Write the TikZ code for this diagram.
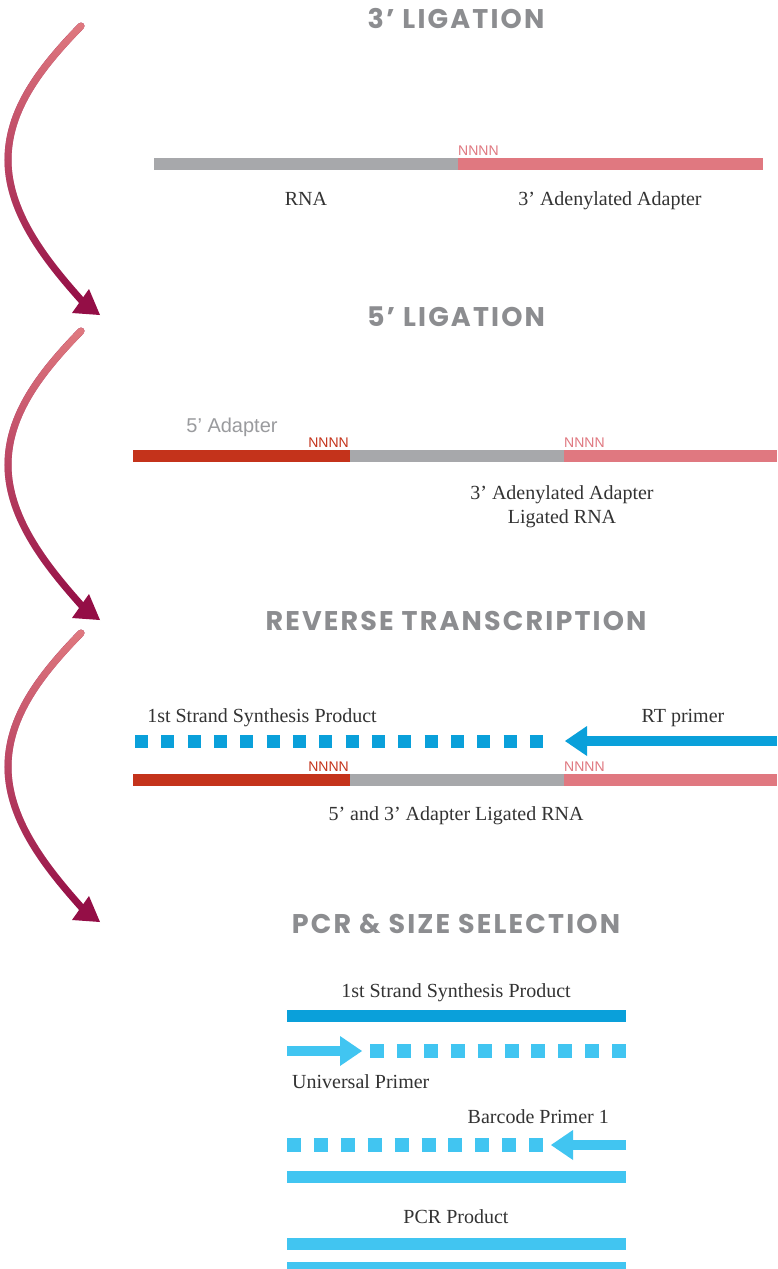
\documentclass[tikz,border=0pt]{standalone}
\usepackage{fontspec}
\setmainfont{Liberation Serif}
\newfontfamily\titlefont{Poppins}[LetterSpace=8]
\newfontfamily\labelfont{Liberation Sans}
\usetikzlibrary{fadings}

\definecolor{titlegray}{HTML}{8C8D90}
\definecolor{rnagray}{HTML}{A7A8AB}
\definecolor{adaptpink}{HTML}{E07880}
\definecolor{adaptred}{HTML}{C4331B}
\definecolor{rtblue}{HTML}{0AA0DA}
\definecolor{pcrblue}{HTML}{41C5F1}
\definecolor{flowtop}{HTML}{E07A80}
\definecolor{flowbot}{HTML}{940E46}
\definecolor{textdark}{HTML}{333333}
\definecolor{labelgray}{HTML}{9A9B9E}

\tikzset{
  title/.style={font=\titlefont\bfseries\fontsize{27}{27}\selectfont, text=titlegray, inner sep=0pt, anchor=base},
  lbl/.style={font=\fontsize{20}{20}\selectfont, text=textdark, inner sep=0pt, anchor=base},
  nnnn/.style={font=\labelfont\fontsize{14}{14}\selectfont, inner sep=0pt},
  strand/.style={line width=12pt},
  shaft/.style={line width=10pt},
  dotsRT/.style={line width=13pt, dash pattern=on 13pt off 13.33pt},
  dotsPCR/.style={line width=14pt, dash pattern=on 14pt off 12.9pt},
  flowline/.style={line width=7pt, line cap=round},
  pics/flowarrow/.style={code={
    \draw[flowline, flowbot] (81,26) .. controls (40,68) and (8,110) .. (8,160)
                             .. controls (8,215) and (50,265) .. (82,301);
    \draw[flowline, flowtop, path fading=south] (81,26) .. controls (40,68) and (8,110) .. (8,160)
                             .. controls (8,215) and (50,265) .. (82,301);
    \fill[flowbot] (100,315) -- (72,313) -- (89,289) -- cycle;
  }}
}

\begin{document}
\begin{tikzpicture}[x=1pt, y=-1pt]
\useasboundingbox (0,0) rectangle (777,1269);
\fill[white] (0,0) rectangle (777,1269);
\clip (0,0) rectangle (777,1269);

% step arrows on the left
\pic (fa1) at (0,0) {flowarrow};
\pic (fa2) at (0,305) {flowarrow};
\pic (fa3) at (0,607) {flowarrow};

% ---------- 3' ligation ----------
\node[title] (t1) at (456,28) {3’ LIGATION};
\coordinate (a1) at (154,164);
\coordinate (a1j) at (458,164);
\coordinate (a1e) at (763,164);
\draw[strand, rnagray] (a1) -- (a1j);
\draw[strand, adaptpink] (a1j) -- (a1e);
\node[nnnn, text=adaptpink, anchor=base west] (n1) at (458,155) {NNNN};
\node[lbl] (rna1) at (306,205) {RNA};
\node[lbl] (ad1) at (610,205) {3’ Adenylated Adapter};

% ---------- 5' ligation ----------
\node[title] (t2) at (456,326) {5’ LIGATION};
\node[font=\labelfont\fontsize{20}{20}\selectfont, text=labelgray, inner sep=0pt, anchor=base] (ad5) at (232,432) {5’ Adapter};
\coordinate (b0) at (133,456);
\coordinate (b1) at (350,456);
\coordinate (b2) at (564,456);
\coordinate (b3) at (777,456);
\draw[strand, adaptred] (b0) -- (b1);
\draw[strand, rnagray] (b1) -- (b2);
\draw[strand, adaptpink] (b2) -- (b3);
\node[nnnn, text=adaptred, anchor=base east] (n2a) at (349,447) {NNNN};
\node[nnnn, text=adaptpink, anchor=base west] (n2b) at (564,447) {NNNN};
\node[lbl] (lig2a) at (562,499) {3’ Adenylated Adapter};
\node[lbl] (lig2b) at (562,523) {Ligated RNA};

% ---------- reverse transcription ----------
\node[title] (t3) at (456,630) {REVERSE TRANSCRIPTION};
\node[lbl] (fs3) at (262,722) {1st Strand Synthesis Product};
\node[lbl] (rt3) at (683,722) {RT primer};
\coordinate (d3a) at (135,741);
\coordinate (d3b) at (543,741);
\draw[dotsRT, rtblue] (d3a) -- (d3b);
\coordinate (rtS) at (777,741);
\coordinate (rtT) at (565,741);
\draw[shaft, rtblue] (rtS) -- ([xshift=21pt]rtT);
\fill[rtblue] (rtT) -- ++(22,-15) -- ++(0,30) -- cycle;
\coordinate (c0) at (133,780);
\coordinate (c1) at (350,780);
\coordinate (c2) at (564,780);
\coordinate (c3) at (777,780);
\draw[strand, adaptred] (c0) -- (c1);
\draw[strand, rnagray] (c1) -- (c2);
\draw[strand, adaptpink] (c2) -- (c3);
\node[nnnn, text=adaptred, anchor=base east] (n3a) at (349,771) {NNNN};
\node[nnnn, text=adaptpink, anchor=base west] (n3b) at (564,771) {NNNN};
\node[lbl] (lig3) at (456,820) {5’ and 3’ Adapter Ligated RNA};

% ---------- PCR & size selection ----------
\node[title] (t4) at (456,933) {PCR \& SIZE SELECTION};
\node[lbl] (fs4) at (456,997) {1st Strand Synthesis Product};
\coordinate (e0) at (287,1016);
\coordinate (e1) at (626,1016);
\draw[strand, rtblue] (e0) -- (e1);

\coordinate (upS) at (287,1051);
\coordinate (upT) at (362,1051);
\draw[shaft, pcrblue] (upS) -- ([xshift=-21pt]upT);
\fill[pcrblue] (upT) -- ++(-22,-15) -- ++(0,30) -- cycle;
\coordinate (d4a) at (370,1051);
\coordinate (d4b) at (626,1051);
\draw[dotsPCR, pcrblue] (d4a) -- (d4b);
\node[lbl, anchor=base west] (up4) at (292,1088) {Universal Primer};

\node[lbl, anchor=base east] (bc4) at (609,1123) {Barcode Primer 1};
\coordinate (d5a) at (287,1145);
\coordinate (d5b) at (543,1145);
\draw[dotsPCR, pcrblue] (d5a) -- (d5b);
\coordinate (bpS) at (626,1145);
\coordinate (bpT) at (551,1145);
\draw[shaft, pcrblue] (bpS) -- ([xshift=21pt]bpT);
\fill[pcrblue] (bpT) -- ++(22,-15) -- ++(0,30) -- cycle;
\coordinate (f0) at (287,1177);
\coordinate (f1) at (626,1177);
\draw[strand, pcrblue] (f0) -- (f1);

\node[lbl] (pcr4) at (456,1223) {PCR Product};
\coordinate (g0) at (287,1244);
\coordinate (g1) at (626,1244);
\draw[strand, pcrblue] (g0) -- (g1);
\coordinate (h0) at (287,1268);
\coordinate (h1) at (626,1268);
\draw[strand, pcrblue] (h0) -- (h1);
\end{tikzpicture}
\end{document}
